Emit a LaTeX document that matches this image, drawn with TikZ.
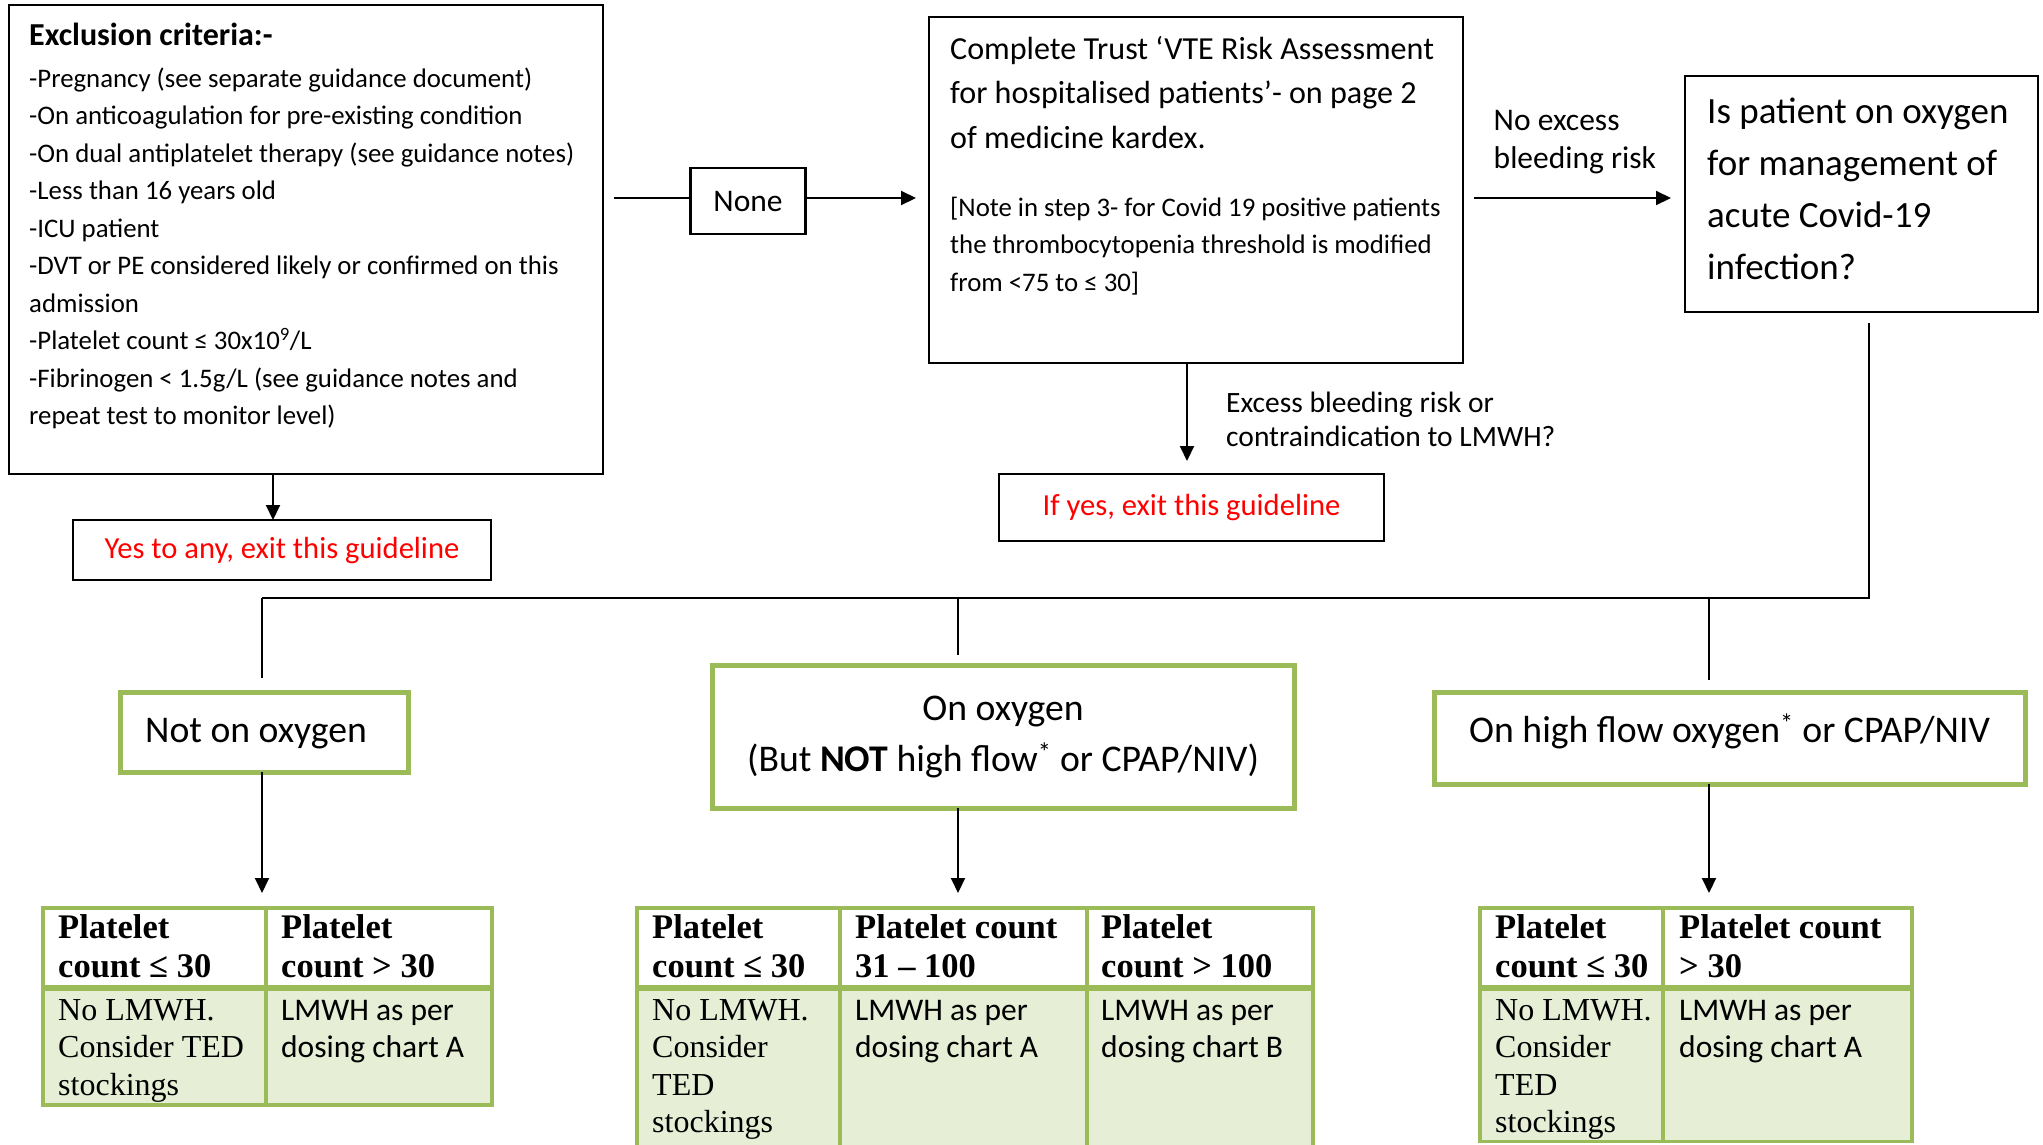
\documentclass[tikz,border=0pt]{standalone}
\usepackage{fontspec}
\setmainfont{Carlito}
\newfontfamily\tabserif{Liberation Serif}
\usetikzlibrary{arrows.meta}
\definecolor{grn}{HTML}{9BBB59}
\definecolor{grnfill}{HTML}{E6EED6}
\definecolor{exitred}{HTML}{FF0000}
\newcommand{\myfs}[2]{\fontsize{#1}{#2}\selectfont}
\begin{document}
\begin{tikzpicture}[x=1pt,y=-1pt,
  blkbox/.style={draw=black, line width=2.5pt, inner sep=0pt, outer sep=0pt},
  grnbox/.style={draw=grn, line width=5pt, inner sep=0pt, outer sep=0pt, fill=white},
  tabbox/.style={draw=grn, line width=3.5pt, fill=grnfill, inner sep=0pt, outer sep=0pt},
  conn/.style={line width=2pt},
  arr/.style={line width=2pt, -{Triangle[length=15pt,width=14pt]}},
  txtblk/.style={anchor=base west, inner sep=0pt},
  hdr/.style={anchor=base west, inner sep=0pt, font=\tabserif\bfseries\myfs{34.5}{39}},
  bodyserif/.style={anchor=base west, inner sep=0pt, font=\tabserif\myfs{32}{37.5}},
  bodysans/.style={anchor=base west, inner sep=0pt, font=\myfs{31.5}{37.5}},
  tabline/.style={draw=grn, line width=3.5pt},
  tabsep/.style={draw=grn, line width=6pt},
]
\fill[white] (0,0) rectangle (2043,1144);
\useasboundingbox (0,0) rectangle (2043,1144);

% ---------- top row ----------
\node[blkbox, minimum width=594, minimum height=469] (excl) at (306,239.5) {};
\node[txtblk, font=\bfseries\myfs{32}{37}] (excltitle) at (29,45) {Exclusion criteria:-};
\node[txtblk] (excltext) at (29,87) {\parbox[t]{570pt}{\myfs{26.8}{37.5}-Pregnancy (see separate guidance document)\\-On anticoagulation for pre-existing condition\\-On dual antiplatelet therapy (see guidance notes)\\-Less than 16 years old\\-ICU patient\\-DVT or PE considered likely or confirmed on this\\admission\\-Platelet count ≤ 30x10\textsuperscript{9}/L\\-Fibrinogen < 1.5g/L (see guidance notes and\\repeat test to monitor level)}};

\node[blkbox, minimum width=418, minimum height=60, text=exitred, font=\myfs{30.6}{35}] (exit1) at (282,550) {Yes to any, exit this guideline};

\node[blkbox, minimum width=115, minimum height=66, font=\myfs{31.5}{37}, text height=24pt, text depth=4pt] (none) at (748,201) {None};

\node[blkbox, minimum width=534, minimum height=346] (vte) at (1196,190) {};
\node[txtblk] (vtetext) at (950,59) {\parbox[t]{520pt}{\myfs{32.1}{44.6}Complete Trust ‘VTE Risk Assessment\\for hospitalised patients’- on page 2\\of medicine kardex.}};
\node[txtblk] (vtenote) at (950,216) {\parbox[t]{510pt}{\myfs{26.8}{37.5}[Note in step 3- for Covid 19 positive patients\\the thrombocytopenia threshold is modified\\from <75 to ≤ 30]}};

\node[blkbox, minimum width=353, minimum height=236] (q) at (1861.5,194) {};
\node[txtblk] (qtext) at (1707,123) {\parbox[t]{330pt}{\myfs{37}{52}Is patient on oxygen\\for management of\\acute Covid-19\\infection?}};
\node[txtblk] (lblno) at (1493.5,130) {\parbox[t]{180pt}{\myfs{31.5}{38}No excess\\bleeding risk}};

\node[blkbox, minimum width=385, minimum height=67, text=exitred, font=\myfs{30.6}{35}] (exit2) at (1191.5,507.5) {If yes, exit this guideline};
\node[txtblk] (lblex) at (1226,412.5) {\parbox[t]{330pt}{\myfs{29.5}{33.5}Excess bleeding risk or\\contraindication to LMWH?}};

% ---------- connectors top ----------
\coordinate (ay) at (0,198);
\draw[arr] ([xshift=-33pt]excl.south) -- ([xshift=-9pt]exit1.north);
\draw[conn, shorten <=11pt] (excl.east |- ay) -- (none.west |- ay);
\draw[arr, shorten >=13pt] (none.east |- ay) -- (vte.west |- ay);
\draw[arr, shorten <=11pt, shorten >=14pt] (vte.east |- ay) -- (q.west |- ay);
\coordinate (dn) at ([xshift=-4.5pt]exit2.north);
\draw[arr, shorten >=13pt] (dn |- vte.south) -- (dn);

% ---------- oxygen branches ----------
\node[grnbox, minimum width=288, minimum height=80, font=\myfs{37.7}{44}, text height=26pt, text depth=6pt] (notox) at (264,732) {Not on oxygen\hspace*{16pt}};
\node[grnbox, minimum width=582, minimum height=143, font=\myfs{37.7}{51}, align=center] (onox) at (1003,736.5) {On oxygen\\(But \textbf{NOT} high flow\textsuperscript{*} or CPAP/NIV)};
\node[grnbox, minimum width=591, minimum height=92, font=\myfs{37.7}{44}, text height=22pt, text depth=14pt] (hiox) at (1729.5,738) {On high flow oxygen\textsuperscript{*} or CPAP/NIV};

\coordinate (busR) at (1869,598);
\coordinate (busL) at (262,598);
\coordinate (busM) at (958,598);
\coordinate (busH) at (1709,598);
\draw[conn, shorten <=11pt] (q.south -| busR) -- (busR) -- (busL);
\draw[conn, shorten >=14pt] (busL) -- (notox.north -| busL);
\draw[conn, shorten >=10pt] (busM) -- (onox.north -| busM);
\draw[conn, shorten >=12pt] (busH) -- (hiox.north -| busH);

% ---------- tables ----------
\node[tabbox, minimum width=449, minimum height=197] (tab1) at (267.5,1006.5) {};
\fill[white] (44.75,909.75) rectangle (490.25,988);
\draw[tabline] (266,908) -- (266,1105);
\draw[tabsep] (43,988) -- (492,988);
\node[hdr] (t1h1) at (58,938) {\parbox[t]{200pt}{Platelet\\count ≤ 30}};
\node[hdr] (t1h2) at (281,938) {\parbox[t]{200pt}{Platelet\\count > 30}};
\node[bodyserif] (t1b1) at (58,1020) {\parbox[t]{200pt}{No LMWH.\\Consider TED\\stockings}};
\node[bodysans] (t1b2) at (281,1020) {\parbox[t]{200pt}{LMWH as per\\dosing chart A}};

\node[tabbox, minimum width=676, minimum height=242] (tab2) at (975,1029) {};
\fill[white] (638.75,909.75) rectangle (1311.25,988);
\draw[tabline] (840,908) -- (840,1150);
\draw[tabline] (1087,908) -- (1087,1150);
\draw[tabsep] (637,988) -- (1313,988);
\node[hdr] (t2h1) at (652,938) {\parbox[t]{200pt}{Platelet\\count ≤ 30}};
\node[hdr] (t2h2) at (855,938) {\parbox[t]{240pt}{Platelet count\\31 – 100}};
\node[hdr] (t2h3) at (1101,938) {\parbox[t]{200pt}{Platelet\\count > 100}};
\node[bodyserif] (t2b1) at (652,1020) {\parbox[t]{200pt}{No LMWH.\\Consider\\TED\\stockings}};
\node[bodysans] (t2b2) at (855,1020) {\parbox[t]{200pt}{LMWH as per\\dosing chart A}};
\node[bodysans] (t2b3) at (1101,1020) {\parbox[t]{200pt}{LMWH as per\\dosing chart B}};

\node[tabbox, minimum width=432, minimum height=233.5] (tab3) at (1696,1024.75) {};
\fill[white] (1481.75,909.75) rectangle (1910.25,988);
\draw[tabline] (1663,908) -- (1663,1141.5);
\draw[tabsep] (1480,988) -- (1912,988);
\node[hdr] (t3h1) at (1495,938) {\parbox[t]{200pt}{Platelet\\count ≤ 30}};
\node[hdr] (t3h2) at (1679,938) {\parbox[t]{240pt}{Platelet count\\> 30}};
\node[bodyserif] (t3b1) at (1495,1020) {\parbox[t]{200pt}{No LMWH.\\Consider\\TED\\stockings}};
\node[bodysans] (t3b2) at (1679,1020) {\parbox[t]{200pt}{LMWH as per\\dosing chart A}};

\draw[arr, shorten >=15pt] (notox.south -| busL) -- (tab1.north -| busL);
\draw[arr, shorten >=15pt] (onox.south -| busM) -- (tab2.north -| busM);
\draw[arr, shorten >=15pt] (hiox.south -| busH) -- (tab3.north -| busH);
\end{tikzpicture}
\end{document}
